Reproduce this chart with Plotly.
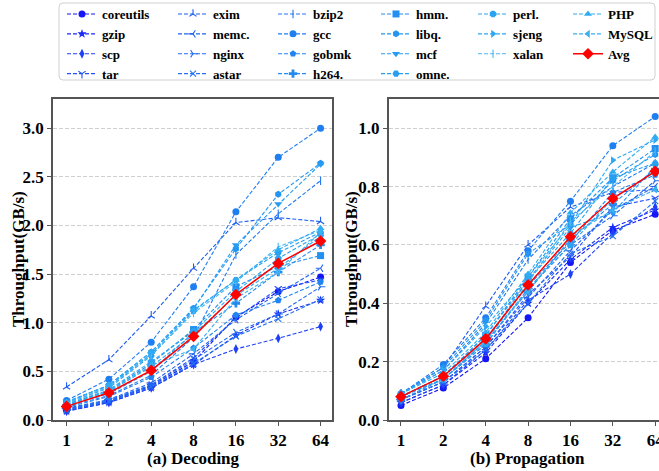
import plotly.graph_objects as go

W, H = 659, 471

x_labels = ["1", "2", "4", "8", "16", "32", "64"]

names = ["coreutils", "gzip", "scp", "tar", "exim", "memc.", "nginx", "astar",
         "bzip2", "gcc", "gobmk", "h264.", "hmm.", "libq.", "mcf", "omne.",
         "perl.", "sjeng", "xalan", "PHP", "MySQL"]

decoding = {
    "coreutils": [0.10, 0.19, 0.35, 0.60, 1.06, 1.32, 1.47],
    "gzip":      [0.09, 0.18, 0.33, 0.57, 0.87, 1.09, 1.23],
    "scp":       [0.09, 0.18, 0.33, 0.57, 0.73, 0.84, 0.96],
    "tar":       [0.11, 0.20, 0.36, 0.64, 1.05, 1.35, 1.44],
    "exim":      [0.34, 0.62, 1.07, 1.56, 2.03, 2.08, 2.04],
    "memc.":     [0.12, 0.21, 0.38, 0.68, 1.03, 1.30, 1.56],
    "nginx":     [0.11, 0.20, 0.36, 0.62, 0.90, 1.09, 1.37],
    "astar":     [0.10, 0.19, 0.34, 0.58, 0.86, 1.04, 1.24],
    "bzip2":     [0.14, 0.25, 0.46, 0.85, 1.70, 2.12, 2.46],
    "gcc":       [0.20, 0.42, 0.80, 1.37, 2.14, 2.70, 3.00],
    "gobmk":     [0.13, 0.24, 0.44, 0.74, 1.08, 1.23, 1.42],
    "h264.":     [0.15, 0.27, 0.50, 0.90, 1.20, 1.52, 1.80],
    "hmm.":      [0.16, 0.30, 0.58, 0.93, 1.37, 1.58, 1.69],
    "libq.":     [0.18, 0.36, 0.70, 1.15, 1.76, 2.32, 2.64],
    "mcf":       [0.19, 0.35, 0.68, 1.14, 1.80, 2.22, 2.63],
    "omne.":     [0.17, 0.33, 0.66, 1.12, 1.44, 1.72, 1.93],
    "perl.":     [0.16, 0.31, 0.60, 0.91, 1.32, 1.66, 1.91],
    "sjeng":     [0.15, 0.29, 0.55, 0.88, 1.28, 1.56, 1.89],
    "xalan":     [0.17, 0.34, 0.67, 1.10, 1.42, 1.78, 1.95],
    "PHP":       [0.18, 0.36, 0.70, 1.13, 1.44, 1.75, 1.97],
    "MySQL":     [0.15, 0.30, 0.56, 0.73, 1.25, 1.52, 1.93],
}
decoding_avg = [0.14, 0.28, 0.51, 0.86, 1.29, 1.61, 1.84]

propagation = {
    "coreutils": [0.05, 0.11, 0.21, 0.35, 0.54, 0.65, 0.705],
    "gzip":      [0.06, 0.12, 0.23, 0.40, 0.55, 0.66, 0.72],
    "scp":       [0.06, 0.12, 0.24, 0.41, 0.50, 0.64, 0.73],
    "tar":       [0.07, 0.13, 0.25, 0.43, 0.56, 0.73, 0.76],
    "exim":      [0.09, 0.18, 0.39, 0.60, 0.73, 0.78, 0.79],
    "memc.":     [0.07, 0.13, 0.25, 0.42, 0.58, 0.72, 0.80],
    "nginx":     [0.08, 0.14, 0.26, 0.45, 0.60, 0.70, 0.82],
    "astar":     [0.07, 0.13, 0.24, 0.40, 0.57, 0.63, 0.75],
    "bzip2":     [0.09, 0.17, 0.33, 0.55, 0.70, 0.80, 0.88],
    "gcc":       [0.09, 0.19, 0.35, 0.58, 0.75, 0.94, 1.04],
    "gobmk":     [0.08, 0.15, 0.28, 0.46, 0.61, 0.78, 0.84],
    "h264.":     [0.07, 0.14, 0.27, 0.44, 0.62, 0.74, 0.86],
    "hmm.":      [0.08, 0.15, 0.29, 0.49, 0.69, 0.83, 0.93],
    "libq.":     [0.09, 0.18, 0.34, 0.57, 0.67, 0.82, 0.91],
    "mcf":       [0.08, 0.14, 0.27, 0.48, 0.66, 0.71, 0.87],
    "omne.":     [0.08, 0.15, 0.29, 0.48, 0.64, 0.83, 0.88],
    "perl.":     [0.08, 0.14, 0.26, 0.45, 0.60, 0.76, 0.85],
    "sjeng":     [0.09, 0.17, 0.32, 0.49, 0.67, 0.89, 0.96],
    "xalan":     [0.08, 0.15, 0.27, 0.47, 0.68, 0.80, 0.92],
    "PHP":       [0.09, 0.16, 0.30, 0.50, 0.71, 0.85, 0.97],
    "MySQL":     [0.08, 0.15, 0.28, 0.44, 0.63, 0.72, 0.79],
}
propagation_avg = [0.08, 0.15, 0.278, 0.463, 0.628, 0.759, 0.852]

colors = ["#1515f5", "#1a2cf8", "#1f40fa", "#2250fa", "#1f5cf0", "#2064f0",
          "#226cf2", "#2470f2", "#2478f2", "#1f7ef0", "#2284f0", "#248af0",
          "#2290f2", "#2496f2", "#269cf2", "#28a0f2", "#2aa4f2", "#2ea8f2",
          "#4ab8f4", "#30acf2", "#3ab0f0"]

symbols = ["circle", "star", "diamond-tall", "y-down", "y-up", "y-left",
           "y-right", "x-thin", "line-ns", "circle", "pentagon", "cross",
           "square", "hexagon", "triangle-down", "hexagon2", "octagon",
           "triangle-right", "line-ns", "triangle-up", "triangle-left"]

# legend columns (column-major like the reference)
columns = [names[0:4], names[4:8], names[8:12], names[12:16], names[16:19],
           names[19:21] + ["Avg"]]
col_px = [62, 173, 273, 376, 473, 568]

legend_of = {}
for ci, col in enumerate(columns):
    for nm in col:
        legend_of[nm] = "legend" if ci == 0 else f"legend{ci + 1}"

FONT = "Liberation Serif"
fig = go.Figure()

panels = [(decoding, decoding_avg, "x", "y", True),
          (propagation, propagation_avg, "x2", "y2", False)]

THIN = ("y-down", "y-up", "y-left", "y-right", "x-thin", "line-ns")

for data, avg, xa, ya, show in panels:
    for i, nm in enumerate(names):
        vals = data[nm]
        thin = symbols[i] in THIN
        fig.add_trace(go.Scatter(
            x=x_labels, y=vals, xaxis=xa, yaxis=ya, name=nm,
            mode="lines+markers", legend=legend_of[nm],
            showlegend=show,
            line=dict(color=colors[i], width=1.1, dash="4px,2px"),
            marker=dict(symbol=symbols[i], size=7 if not thin else 6,
                        color=colors[i],
                        line=dict(color=colors[i], width=1.1 if thin else 0)),
        ))
    fig.add_trace(go.Scatter(
        x=x_labels, y=avg, xaxis=xa, yaxis=ya, name="Avg",
        mode="lines+markers", legend=legend_of["Avg"],
        showlegend=show,
        line=dict(color="#ff0000", width=1.5),
        marker=dict(symbol="diamond", size=9, color="#ff0000"),
    ))

# domains (pixel based)
yd = [(H - 420) / H, (H - 99) / H]
xd1 = [53 / W, 332 / W]
xd2 = [388.7 / W, 1.0]

axis_common = dict(
    showline=True, linecolor="#555555", linewidth=1.5, mirror=True,
    ticks="outside", ticklen=4, tickwidth=1.2, tickcolor="#555555",
    tickfont=dict(family=FONT, size=17, color="black", weight="bold"),
    zeroline=False,
)

fig.update_layout(
    width=W, height=H, margin=dict(l=0, r=0, t=0, b=0, autoexpand=False),
    paper_bgcolor="white", plot_bgcolor="white",
    font=dict(family=FONT, color="black"),
    xaxis=dict(domain=xd1, type="category", range=[-0.32, 6.27],
               showgrid=False, anchor="y", automargin=False, **axis_common),
    yaxis=dict(domain=yd, range=[0, 3.3], tickvals=[0, 0.5, 1.0, 1.5, 2.0, 2.5, 3.0],
               ticktext=["0.0", "0.5", "1.0", "1.5", "2.0", "2.5", "3.0"],
               showgrid=True, gridcolor="#cfcfcf", griddash="4px,2px", gridwidth=1,
               anchor="x", automargin=False, **axis_common),
    xaxis2=dict(domain=xd2, type="category", range=[-0.29, 6.09],
                showgrid=False, anchor="y2", automargin=False, **axis_common),
    yaxis2=dict(domain=yd, range=[0, 1.1], tickvals=[0, 0.2, 0.4, 0.6, 0.8, 1.0],
                ticktext=["0.0", "0.2", "0.4", "0.6", "0.8", "1.0"],
                showgrid=True, gridcolor="#cfcfcf", griddash="4px,2px", gridwidth=1,
                anchor="x2", automargin=False, **axis_common),
)

leg_common = dict(
    orientation="v", xanchor="left", yanchor="top", bgcolor="rgba(0,0,0,0)",
    borderwidth=0, tracegroupgap=0, itemwidth=30,
    font=dict(family=FONT, size=13, color="black", weight="bold"),
    itemclick=False, itemdoubleclick=False,
)
for ci, px in enumerate(col_px):
    key_name = "legend" if ci == 0 else f"legend{ci + 1}"
    fig.update_layout({key_name: dict(x=px / W, y=(H + 1) / H, **leg_common)})

# legend frame (rounded rectangle)
x0, x1 = 59 / W, 655 / W
y0, y1 = (H - 80) / H, (H - 3) / H
rx, ry = 4 / W, 4 / H
path = (f"M{x0 + rx},{y0} L{x1 - rx},{y0} Q{x1},{y0} {x1},{y0 + ry} "
        f"L{x1},{y1 - ry} Q{x1},{y1} {x1 - rx},{y1} L{x0 + rx},{y1} "
        f"Q{x0},{y1} {x0},{y1 - ry} L{x0},{y0 + ry} Q{x0},{y0} {x0 + rx},{y0} Z")
fig.add_shape(type="path", path=path, xref="paper", yref="paper",
              line=dict(color="#d0d0d0", width=1), fillcolor="rgba(0,0,0,0)")

title_font = dict(family=FONT, size=17, color="black", weight="bold")
fig.add_annotation(text="Throughput(GB/s)", x=18 / W, y=(H - 259) / H,
                   xref="paper", yref="paper", textangle=-90, showarrow=False,
                   font=title_font, xanchor="center", yanchor="middle")
fig.add_annotation(text="Throughput(GB/s)", x=351 / W, y=(H - 259) / H,
                   xref="paper", yref="paper", textangle=-90, showarrow=False,
                   font=title_font, xanchor="center", yanchor="middle")
fig.add_annotation(text="(a) Decoding", x=193 / W, y=(H - 458) / H,
                   xref="paper", yref="paper", showarrow=False,
                   font=title_font, xanchor="center", yanchor="middle")
fig.add_annotation(text="(b) Propagation", x=527 / W, y=(H - 458) / H,
                   xref="paper", yref="paper", showarrow=False,
                   font=title_font, xanchor="center", yanchor="middle")

fig.write_html("out.html",
               config={"displayModeBar": False},
               post_script="document.body.style.margin='0';"
                           "document.body.style.overflow='hidden';")
